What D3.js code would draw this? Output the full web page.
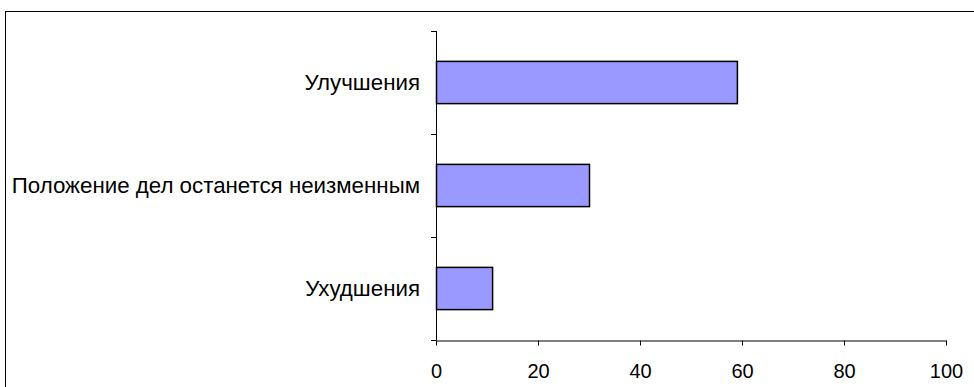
<!DOCTYPE html>
<html><head><meta charset="utf-8">
<script src="https://cdn.jsdelivr.net/npm/d3@7"></script>
<style>body{margin:0;background:#fff}svg{display:block}</style>
</head><body>
<svg id="c" width="974" height="387"></svg>
<script>
const categories = ["Улучшения", "Положение дел останется неизменным", "Ухудшения"];
const values = [59, 30, 11];
const xTicks = [0, 20, 40, 60, 80, 100];

const svg = d3.select("#c");
svg.append("rect").attr("x",5.5).attr("y",11.5).attr("width",1000).attr("height",400)
  .attr("fill","#fff").attr("stroke","#000").attr("stroke-width",1);

const x = d3.scaleLinear().domain([0,100]).range([436,946]);
const y = d3.scaleBand().domain(categories).range([31,340]).paddingInner(0.59).paddingOuter(0.295);
const yb = d3.scaleBand().domain(categories).range([31,340]);

// y axis line and ticks at band boundaries
svg.append("line").attr("x1",x(0)+0.5).attr("x2",x(0)+0.5).attr("y1",31).attr("y2",340).attr("stroke","#000");
const bounds = categories.map(c=>yb(c)).concat([340]);
svg.selectAll(".yt").data(bounds).enter().append("line")
  .attr("x1",x(0)-5).attr("x2",x(0)+0.5).attr("y1",d=>Math.round(d)+0.5).attr("y2",d=>Math.round(d)+0.5).attr("stroke","#000");

// x axis
const xa = svg.append("g").attr("transform","translate(0,340.5)")
  .call(d3.axisBottom(x).tickValues(xTicks).tickSize(5).tickSizeOuter(0).tickPadding(18));
xa.select(".domain").attr("stroke","#000");
xa.selectAll("line").attr("stroke","#000");
xa.selectAll("text").attr("font-family","Liberation Sans, Arial, sans-serif").attr("font-size",20).attr("fill","#000");

// bars
svg.selectAll(".bar").data(values).enter().append("rect")
  .attr("x",x(0)+0.5).attr("y",(d,i)=>y(categories[i]))
  .attr("width",d=>x(d)-x(0)).attr("height",y.bandwidth())
  .attr("fill","#9999ff").attr("stroke","#000").attr("stroke-width",1.5);

// category labels
svg.selectAll(".lab").data(categories).enter().append("text")
  .attr("x",420).attr("y",d=>yb(d)+yb.bandwidth()/2).attr("dy","0.35em")
  .attr("text-anchor","end").attr("font-family","Liberation Sans, Arial, sans-serif")
  .attr("font-size",22.3).attr("fill","#000").text(d=>d);
</script>
</body></html>
